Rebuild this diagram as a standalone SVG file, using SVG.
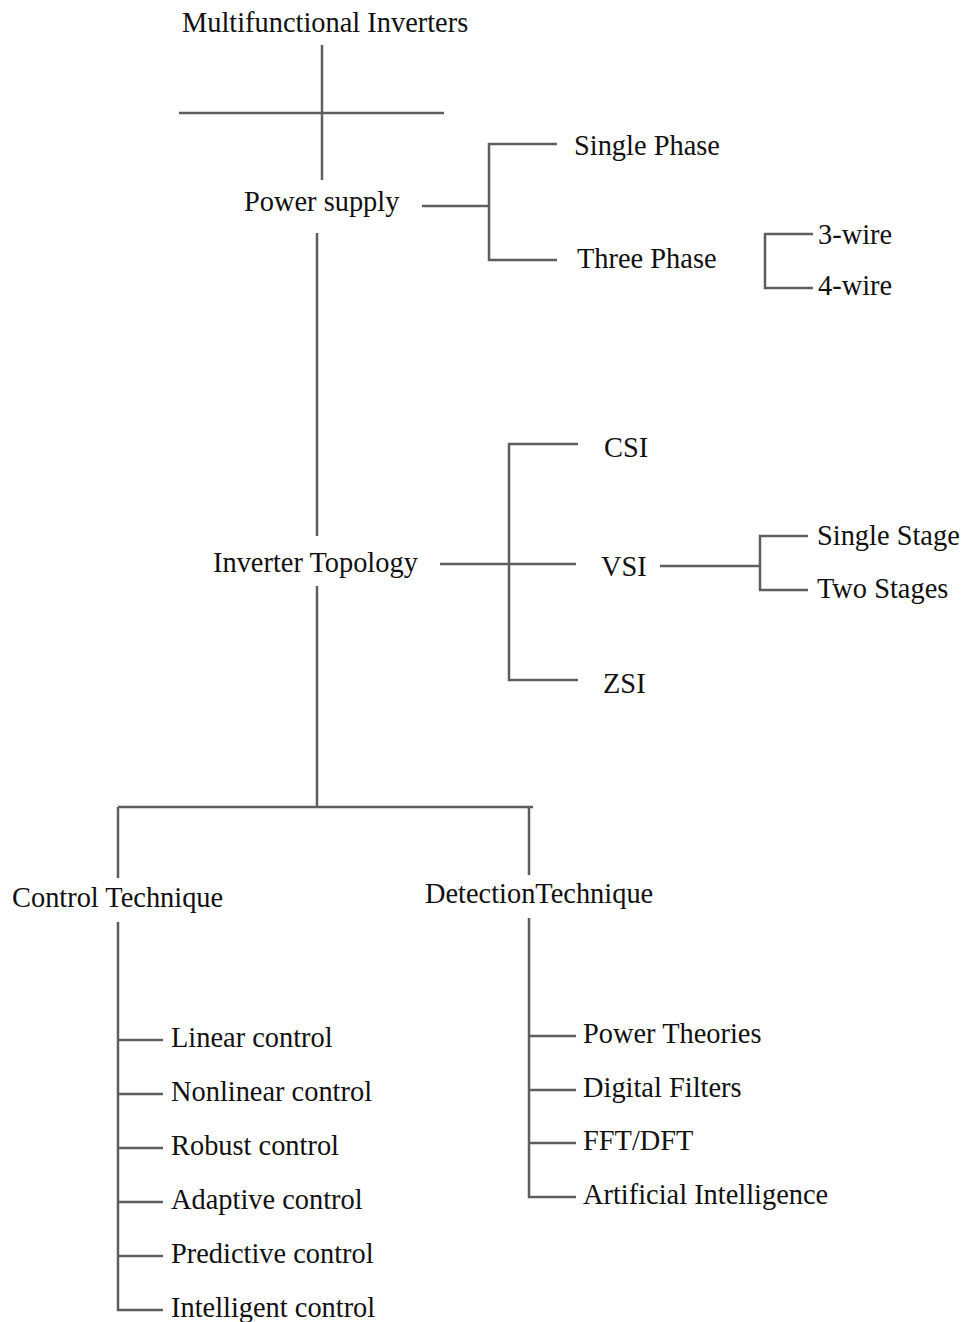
<svg xmlns="http://www.w3.org/2000/svg" width="962" height="1322" viewBox="0 0 962 1322">
<style>
text{font-family:"Liberation Serif","Times New Roman",serif;font-size:28.4px;fill:#111}
.c line,.c path{stroke:#5e5e5e;stroke-width:2.5;fill:none}
</style>
<rect width="962" height="1322" fill="#fff"/>
<g class="c" id="connectors">
<line x1="322" y1="45" x2="322" y2="180"/>
<line x1="179" y1="113" x2="444" y2="113"/>
<line x1="422" y1="206" x2="489" y2="206"/>
<path d="M557 144H489V260H557"/>
<path d="M813 234H765V288H813"/>
<line x1="317" y1="233" x2="317" y2="536"/>
<line x1="317" y1="586" x2="317" y2="807"/>
<line x1="440" y1="564" x2="509" y2="564"/>
<path d="M578 444H509V680H578"/>
<line x1="509" y1="564" x2="576" y2="564"/>
<line x1="660" y1="566" x2="760" y2="566"/>
<path d="M808 536H760V590H808"/>
<line x1="118" y1="807" x2="533" y2="807"/>
<line x1="118" y1="807" x2="118" y2="878"/>
<line x1="529" y1="807" x2="529" y2="875"/>
<path d="M118 922V1310H163"/>
<line x1="118" y1="1040" x2="163" y2="1040"/>
<line x1="118" y1="1094" x2="163" y2="1094"/>
<line x1="118" y1="1148" x2="163" y2="1148"/>
<line x1="118" y1="1202" x2="163" y2="1202"/>
<line x1="118" y1="1256" x2="163" y2="1256"/>
<path d="M529 918V1197H576"/>
<line x1="529" y1="1036" x2="576" y2="1036"/>
<line x1="529" y1="1090" x2="576" y2="1090"/>
<line x1="529" y1="1143" x2="576" y2="1143"/>
</g>
<g id="root"><text x="182" y="32">Multifunctional Inverters</text></g>
<g id="power-supply"><text x="244" y="211">Power supply</text></g>
<g id="single-phase"><text x="574" y="155">Single Phase</text></g>
<g id="three-phase"><text x="577" y="268">Three Phase</text></g>
<g id="wire3"><text x="818" y="244">3-wire</text></g>
<g id="wire4"><text x="818" y="295">4-wire</text></g>
<g id="inverter-topology"><text x="213" y="572">Inverter Topology</text></g>
<g id="csi"><text x="604" y="457">CSI</text></g>
<g id="vsi"><text x="601" y="576">VSI</text></g>
<g id="zsi"><text x="603" y="693">ZSI</text></g>
<g id="single-stage"><text x="817" y="545">Single Stage</text></g>
<g id="two-stages"><text x="817" y="598">Two Stages</text></g>
<g id="control-technique"><text x="12" y="907">Control Technique</text></g>
<g id="detection-technique"><text x="425" y="903">DetectionTechnique</text></g>
<g id="linear"><text x="171" y="1047">Linear control</text></g>
<g id="nonlinear"><text x="171" y="1101">Nonlinear control</text></g>
<g id="robust"><text x="171" y="1155">Robust control</text></g>
<g id="adaptive"><text x="171" y="1209">Adaptive control</text></g>
<g id="predictive"><text x="171" y="1263">Predictive control</text></g>
<g id="intelligent"><text x="171" y="1317">Intelligent control</text></g>
<g id="power-theories"><text x="583" y="1043">Power Theories</text></g>
<g id="digital-filters"><text x="583" y="1097">Digital Filters</text></g>
<g id="fft"><text x="583" y="1150">FFT/DFT</text></g>
<g id="ai"><text x="583" y="1204">Artificial Intelligence</text></g>
</svg>
